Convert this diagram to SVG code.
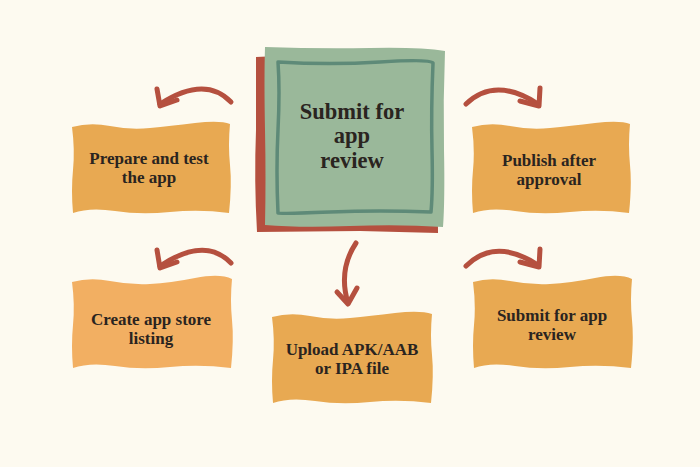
<svg xmlns="http://www.w3.org/2000/svg" width="700" height="467" viewBox="0 0 700 467">
<defs>
<style>
.t{font-family:"Liberation Serif","DejaVu Serif",serif;font-weight:bold;fill:#2a2420;text-anchor:middle}
.s{font-size:17px}
.b{font-size:22.5px}
.box{fill:#E8A952}
.arr{fill:none;stroke:#B5503F;stroke-width:5;stroke-linecap:round;stroke-linejoin:round}
</style>
</defs>
<rect width="700" height="467" fill="#FDFAF0"/>
<g id="connectors">
<path class="arr" d="M231,102 Q205,75 160,104"/>
<path class="arr" d="M157,89 L160,106 L177,100"/>
<path class="arr" d="M466,104 Q495,76 538,104"/>
<path class="arr" d="M540,88 L539,106 L520,101"/>
<path class="arr" d="M231,263 Q205,236 160,266"/>
<path class="arr" d="M157,250 L160,268 L177,262"/>
<path class="arr" d="M466,266 Q495,237 538,265"/>
<path class="arr" d="M540,249 L539,267 L520,262"/>
<path class="arr" d="M356,243 Q338,270 348,303"/>
<path class="arr" d="M337,292 L348,304 L357,288"/>
</g>
<g id="center">
<path d="M256,57 L300,55 L437,56 L438,233 L360,231 L257,232 Q254,180 256,130 Z" fill="#B5503F"/>
<path d="M265,47 Q320,49 370,48 T445,51 Q443,100 444,150 T443,227 Q400,224 350,226 T265,225 Q266,180 265,130 T265,47 Z" fill="#9AB89A"/>
<path d="M278,62 Q330,65 380,62 T433,63 Q431,110 432,150 T431,212 Q380,210 330,212 T278,213 Q276,170 278,130 T278,62 Z" fill="none" stroke="#5E8A78" stroke-width="3.5" stroke-linejoin="round"/>
<text class="t b" x="352" y="119">Submit for</text>
<text class="t b" x="352" y="143">app</text>
<text class="t b" x="352" y="168">review</text>
</g>
<g id="prepare">
<path class="box" d="M72,127 Q90,122 110,126 T150,128 T195,123 T230,124 Q228,145 230,165 T229,213 Q200,209 170,212 T115,211 T73,213 Q71,190 73,170 T72,127 Z"/>
<text class="t s" x="149" y="164">Prepare and test</text>
<text class="t s" x="149" y="183">the app</text>
</g>
<g id="publish">
<path class="box" d="M472,127 Q490,122 510,126 T550,128 T595,123 T630,124 Q628,145 630,165 T629,213 Q600,209 570,212 T515,211 T473,213 Q471,190 473,170 T472,127 Z"/>
<text class="t s" x="549" y="166">Publish after</text>
<text class="t s" x="549" y="185">approval</text>
</g>
<g id="create">
<path d="M72,282 Q90,277 110,281 T150,284 T195,278 T232,279 Q230,300 232,320 T231,368 Q200,364 170,367 T115,366 T73,368 Q71,345 73,325 T72,282 Z" fill="#F2AF62"/>
<text class="t s" x="151" y="325">Create app store</text>
<text class="t s" x="151" y="344">listing</text>
</g>
<g id="upload">
<path class="box" d="M272,317 Q290,312 310,316 T350,318 T395,313 T432,314 Q430,335 432,355 T431,403 Q400,399 370,402 T315,401 T273,403 Q271,380 273,360 T272,317 Z"/>
<text class="t s" x="352" y="355">Upload APK/AAB</text>
<text class="t s" x="352" y="374">or IPA file</text>
</g>
<g id="submit2">
<path class="box" d="M473,282 Q490,277 510,281 T550,284 T595,278 T632,279 Q630,300 632,320 T631,368 Q600,364 570,367 T515,366 T474,368 Q472,345 474,325 T473,282 Z"/>
<text class="t s" x="552" y="321">Submit for app</text>
<text class="t s" x="552" y="340">review</text>
</g>
</svg>
